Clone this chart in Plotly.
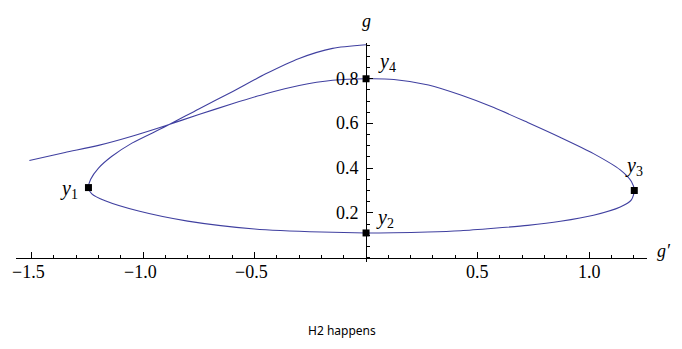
import plotly.graph_objects as go

# trajectory in the (g', g) plane, traced in order
g_prime = [-1.51, -1.35, -1.2, -1.05, -0.9, -0.75, -0.6, -0.45, -0.3, -0.15, 0.0,
           0.125, 0.28, 0.425, 0.573, 0.725, 0.872, 1.02, 1.14, 1.19, 1.203,
           1.19, 1.14, 1.02, 0.872, 0.725, 0.573, 0.425, 0.277, 0.125, 0.0,
           -0.2, -0.5, -0.8, -1.02, -1.17, -1.23, -1.245,
           -1.235, -1.20, -1.14, -1.05, -0.9, -0.75, -0.6, -0.45, -0.3, -0.15, 0.0]
g = [0.434, 0.470, 0.502, 0.543, 0.590, 0.640, 0.688, 0.733, 0.770, 0.793, 0.80,
     0.797, 0.772, 0.727, 0.671, 0.604, 0.537, 0.465, 0.392, 0.340, 0.30,
     0.258, 0.226, 0.189, 0.162, 0.144, 0.131, 0.120, 0.114, 0.111, 0.11,
     0.114, 0.128, 0.163, 0.208, 0.254, 0.285, 0.313,
     0.350, 0.400, 0.453, 0.512, 0.586, 0.665, 0.742, 0.822, 0.891, 0.936, 0.952]

# marked points
pt_labels = ['1', '2', '3', '4']
pt_x = [-1.245, 0.0, 1.203, 0.0]
pt_y = [0.313, 0.11, 0.30, 0.80]

x_ticks = [-1.5, -1.0, -0.5, 0.5, 1.0]
x_ticktext = ['\u22121.5', '\u22121.0', '\u22120.5', '0.5', '1.0']
y_ticks = [0.2, 0.4, 0.6, 0.8]
y_ticktext = ['0.2', '0.4', '0.6', '0.8']

xr = [-1.57, 1.26]
yr = [-0.02, 0.96]
serif = 'Liberation Serif'

fig = go.Figure()
fig.add_trace(go.Scatter(x=g_prime, y=g, mode='lines',
                         line=dict(color='rgb(64,64,160)', width=1.1, shape='spline', smoothing=0.7),
                         hoverinfo='skip'))
fig.add_trace(go.Scatter(x=pt_x, y=pt_y, mode='markers',
                         marker=dict(symbol='square', size=7, color='black')))

# label offsets (px) for y1..y4
offs = [(-8, -2), (8, 14), (0, 24), (10, 16)]
for lab, x, y, (dx, dy) in zip(pt_labels, pt_x, pt_y, offs):
    fig.add_annotation(x=x, y=y, text='<i>y</i><sub>' + lab + '</sub>',
                       showarrow=False, xshift=dx, yshift=dy,
                       xanchor='right' if dx < 0 else ('left' if dx > 0 else 'center'),
                       font=dict(family=serif, size=20, color='black'))

# tick labels placed at the tick values
for v, t in zip(x_ticks, x_ticktext):
    fig.add_annotation(x=v, y=0, text=t, showarrow=False, yanchor='top', yshift=-2,
                       xshift=-3 if v < 0 else 0,
                       font=dict(family=serif, size=18, color='black'))
for v, t in zip(y_ticks, y_ticktext):
    fig.add_annotation(x=0, y=v, text=t, showarrow=False, xanchor='right', xshift=-5,
                       font=dict(family=serif, size=18, color='black'))

fig.add_annotation(x=0, y=1, xref='x', yref='paper', text='<i>g</i>', showarrow=False,
                   yanchor='bottom', yshift=10, font=dict(family=serif, size=18, color='black'))
fig.add_annotation(x=1, y=0.0204, xref='paper', yref='paper', text='<i>g\u2032</i>', showarrow=False,
                   xanchor='left', xshift=8, yshift=-5, font=dict(family=serif, size=18, color='black'))
fig.add_annotation(x=0.5, y=-0.36, xref='paper', yref='paper', text='H2 happens', showarrow=False,
                   xshift=10, font=dict(family='Noto Sans', size=12, color='black'))

x_pos = (0 - yr[0]) / (yr[1] - yr[0])
y_pos = (0 - xr[0]) / (xr[1] - xr[0])

fig.update_layout(
    width=682, height=349,
    margin=dict(l=8, r=43, t=35, b=95),
    plot_bgcolor='white', paper_bgcolor='white',
    showlegend=False,
)
fig.update_xaxes(range=xr, anchor='free', position=x_pos, showgrid=False, zeroline=False,
                 showline=True, linecolor='black', linewidth=1,
                 tickmode='array', tickvals=x_ticks, showticklabels=False,
                 ticks='inside', ticklen=6, tickcolor='black',
                 minor=dict(tickmode='linear', tick0=0, dtick=0.1,
                            ticks='inside', ticklen=3, tickcolor='black'))
fig.update_yaxes(range=yr, anchor='free', position=y_pos, showgrid=False, zeroline=False,
                 showline=True, linecolor='black', linewidth=1,
                 tickmode='array', tickvals=y_ticks, showticklabels=False,
                 ticks='inside', ticklen=6, tickcolor='black',
                 minor=dict(tickmode='linear', tick0=0, dtick=0.05,
                            ticks='inside', ticklen=3, tickcolor='black'))

fig.write_html("out.html")
